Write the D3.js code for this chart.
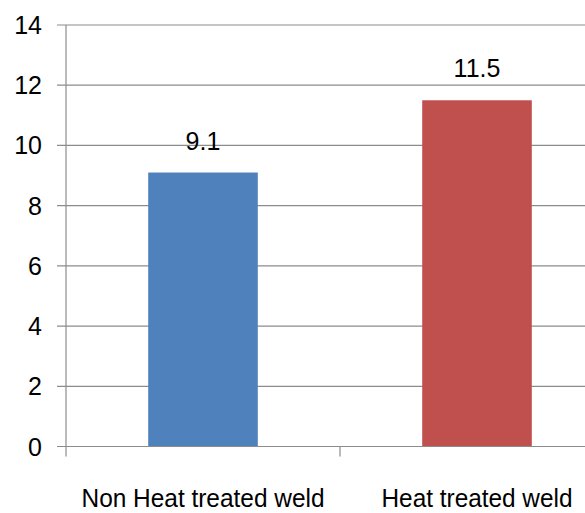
<!DOCTYPE html>
<html>
<head>
<meta charset="utf-8">
<script src="https://cdn.jsdelivr.net/npm/d3@7"></script>
<style>
  html, body { margin: 0; padding: 0; background: #fff; }
  svg { display: block; }
  text { font-family: "Liberation Sans", Arial, sans-serif; fill: #000; }
</style>
</head>
<body>
<svg id="chart" width="585" height="513"></svg>
<script>
// Weld comparison data
const categories = ["Non Heat treated weld", "Heat treated weld"];
const values = [9.1, 11.5];
const barColors = ["#4F81BD", "#C0504D"];
const yTicks = [0, 2, 4, 6, 8, 10, 12, 14];
const labelWidths = [243, 191];

(function draw() {
  const svg = d3.select("#chart");
  const plotLeft = 66, plotTop = 25, plotBottom = 446.5, plotRight = 614;

  const x = d3.scaleBand().domain(categories).range([plotLeft, plotRight]).padding(0);
  const y = d3.scaleLinear().domain([0, 14]).range([plotBottom, plotTop]);
  const barW = x.bandwidth() * 0.4;

  // horizontal gridlines
  svg.append("g")
    .selectAll("line")
    .data(yTicks)
    .join("line")
    .attr("x1", plotLeft - 9)
    .attr("x2", 585)
    .attr("y1", d => y(d))
    .attr("y2", d => y(d))
    .attr("stroke", "#8c8c8c")
    .attr("stroke-width", 1.2);

  // y tick labels
  svg.append("g")
    .selectAll("text")
    .data(yTicks)
    .join("text")
    .attr("x", 42)
    .attr("y", d => y(d))
    .attr("text-anchor", "end")
    .attr("dominant-baseline", "central")
    .attr("font-size", 25)
    .text(d => d);

  // bars
  svg.append("g")
    .selectAll("rect")
    .data(categories)
    .join("rect")
    .attr("x", d => x(d) + (x.bandwidth() - barW) / 2)
    .attr("width", barW)
    .attr("y", (d, i) => y(values[i]))
    .attr("height", (d, i) => y(0) - y(values[i]))
    .attr("fill", (d, i) => barColors[i]);

  // axis lines
  svg.append("line")
    .attr("x1", plotLeft).attr("x2", plotLeft)
    .attr("y1", y(14)).attr("y2", plotBottom + 10)
    .attr("stroke", "#8c8c8c").attr("stroke-width", 1.2);
  svg.append("line")
    .attr("x1", plotLeft).attr("x2", 585)
    .attr("y1", plotBottom).attr("y2", plotBottom)
    .attr("stroke", "#8c8c8c").attr("stroke-width", 1.2);

  // category boundary ticks
  svg.append("g")
    .selectAll("line")
    .data(categories.slice(1))
    .join("line")
    .attr("x1", d => x(d)).attr("x2", d => x(d))
    .attr("y1", plotBottom).attr("y2", plotBottom + 10)
    .attr("stroke", "#8c8c8c").attr("stroke-width", 1.2);

  // value labels
  svg.append("g")
    .selectAll("text")
    .data(categories)
    .join("text")
    .attr("x", d => x(d) + x.bandwidth() / 2)
    .attr("y", (d, i) => y(values[i]) - 23)
    .attr("text-anchor", "middle")
    .attr("font-size", 25)
    .text((d, i) => values[i]);

  // category labels
  svg.append("g")
    .selectAll("text")
    .data(categories)
    .join("text")
    .attr("x", (d, i) => x(d) + x.bandwidth() / 2 - labelWidths[i] / 2)
    .attr("y", 507)
    .attr("font-size", 26)
    .attr("textLength", (d, i) => labelWidths[i])
    .attr("lengthAdjust", "spacingAndGlyphs")
    .text(d => d);
})();
</script>
</body>
</html>
